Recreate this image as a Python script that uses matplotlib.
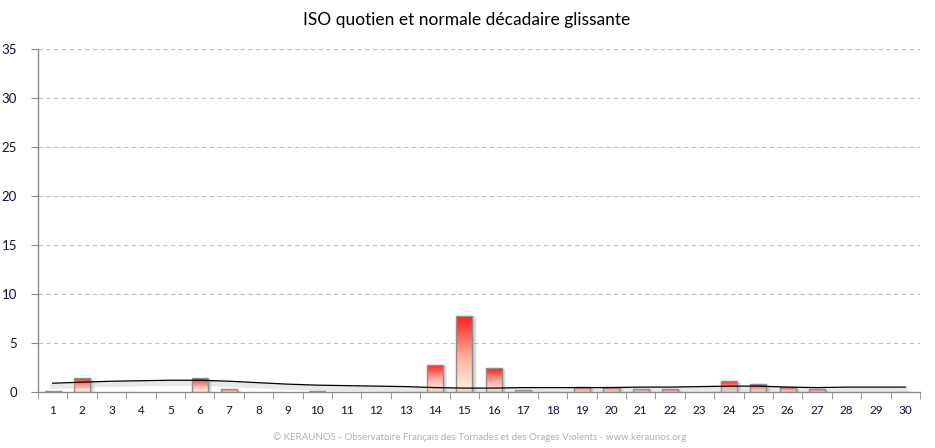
import matplotlib
matplotlib.use("Agg")
import matplotlib.pyplot as plt
import numpy as np
from matplotlib.patches import Rectangle
import matplotlib.colors as mcolors

days = list(range(1, 31))
iso_values = [0.15, 1.4, 0, 0, 0, 1.4, 0.28, 0, 0, 0.1,
              0, 0, 0, 2.8, 7.8, 2.4, 0.2, 0.05, 0.55, 0.55,
              0.35, 0.3, 0, 1.1, 0.8, 0.5, 0.3, 0, 0, 0.05]
normale = [0.9, 1.0, 1.1, 1.15, 1.2, 1.2, 1.1, 0.95, 0.8, 0.7,
           0.65, 0.6, 0.55, 0.45, 0.4, 0.4, 0.45, 0.45, 0.45, 0.45,
           0.5, 0.5, 0.55, 0.6, 0.6, 0.5, 0.45, 0.5, 0.5, 0.5]
y_ticks = [0, 5, 10, 15, 20, 25, 30, 35]
title = "ISO quotien et normale décadaire glissante"
footer = "© KERAUNOS - Observatoire Français des Tornades et des Orages Violents - www.keraunos.org"

plt.rcParams['font.family'] = ['Lato', 'DejaVu Sans']

fig = plt.figure(figsize=(9.35, 4.48), dpi=100)
ax = fig.add_axes([38/935, (448-392)/448, (920-38)/935, (392-49)/448])

ax.set_xlim(0.5, 30.5)
ax.set_ylim(0, 35)

# grid
for t in y_ticks[1:]:
    ax.axhline(t, color='#c4c4c4', linestyle=(0, (4, 3)), linewidth=0.8, zorder=0)

grad = np.linspace(0, 1, 256).reshape(-1, 1)
cmap = mcolors.LinearSegmentedColormap.from_list(
    'rg', [(0.0, '#fff4e0'), (0.45, '#ffb0a4'), (1.0, '#ff1a1a')])
w = 0.55
for d, v in zip(days, iso_values):
    if v <= 0:
        continue
    # soft shadow to the right
    for k in range(6):
        off = 0.025 * (k + 1)
        ax.add_patch(Rectangle((d - w/2 + off, 0), w, max(v - 0.03 * k, 0),
                               facecolor='#505050', alpha=0.07, edgecolor='none', zorder=1))
    rect = Rectangle((d - w/2, 0), w, v, facecolor='none', edgecolor='#8e8e8e',
                     linewidth=1.0, zorder=3)
    ax.add_patch(rect)
    im = ax.imshow(grad, extent=[d - w/2, d + w/2, 0, v], origin='lower',
                   cmap=cmap, aspect='auto', zorder=2)
    im.set_clip_path(rect)

# line shadow
ax.plot(days, [n - 0.3 for n in normale], color='#999999', linewidth=4, alpha=0.22, zorder=3)
ax.plot(days, normale, color='#000000', linewidth=0.9, zorder=4)
ax.set_xlim(0.5, 30.5)
ax.set_ylim(0, 35)

ax.set_yticks(y_ticks)
ax.set_yticklabels([str(t) for t in y_ticks], color='#10103a', fontsize=9.5)
ax.set_xticks(days)
ax.set_xticklabels([str(d) for d in days], color='#10103a', fontsize=8.5)
ax.set_xticks(np.arange(0.5, 31, 1), minor=True)
ax.tick_params(axis='x', which='major', length=0, pad=9)
ax.tick_params(axis='x', which='minor', length=5, color='#8a8a8a')
ax.tick_params(axis='y', length=5, color='#8a8a8a', pad=10)

for s in ['top', 'right']:
    ax.spines[s].set_visible(False)
for s in ['left', 'bottom']:
    ax.spines[s].set_color('#8a8a8a')
    ax.spines[s].set_linewidth(1.0)

fig.text(467/935, 1 - 20/448, title, ha='center', va='center', fontsize=12.5, color='#000000')
fig.text(480/935, 1 - 437/448, footer, ha='center', va='center', fontsize=7, color='#b0b0b0')

fig.savefig('out.png', dpi=100)
